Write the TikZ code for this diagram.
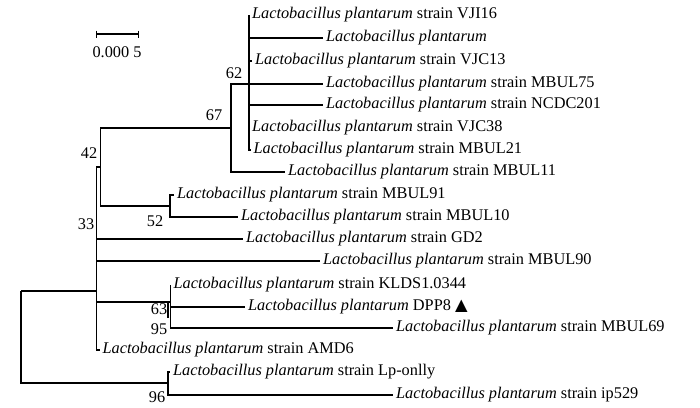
\documentclass[tikz,border=0pt]{standalone}
\usepackage{fontspec}
\setmainfont{Liberation Serif}
\newfontfamily\symfont{DejaVu Sans}
\usepackage{tikz}

\newcommand{\lpl}{\textit{Lactobacillus plantarum}}

\begin{document}
\begin{tikzpicture}[x=1pt,y=-1pt,line width=1.2pt,
  leaf/.style={anchor=west,inner sep=2.5pt,font=\fontsize{16.3}{19.5}\selectfont},
  boot/.style={inner sep=0pt,font=\fontsize{16.3}{19.5}\selectfont}]
\useasboundingbox (0,0) rectangle (700,407);
% scale bar
\coordinate (s1) at (96.7,34);
\coordinate (s2) at (138.3,34);
\draw (s1) -- (s2);
\draw ([yshift=3.5pt]s1) -- ([yshift=-3.5pt]s1);
\draw ([yshift=3.5pt]s2) -- ([yshift=-3.5pt]s2);
\node[boot] (scale) at (117,52) {0.000 5};
% leaves
\node[leaf] (vji16) at (249,15) {\lpl\ strain VJI16};
\node[leaf] (lp) at (323,38) {\lpl};
\node[leaf] (vjc13) at (252,61) {\lpl\ strain VJC13};
\node[leaf] (mbul75) at (323,84) {\lpl\ strain MBUL75};
\node[leaf] (ncdc201) at (323,105) {\lpl\ strain NCDC201};
\node[leaf] (vjc38) at (249,128) {\lpl\ strain VJC38};
\node[leaf] (mbul21) at (250.5,150) {\lpl\ strain MBUL21};
\node[leaf] (mbul11) at (285,172) {\lpl\ strain MBUL11};
\node[leaf] (mbul91) at (174,195) {\lpl\ strain MBUL91};
\node[leaf] (mbul10) at (238,217) {\lpl\ strain MBUL10};
\node[leaf] (gd2) at (243,239) {\lpl\ strain GD2};
\node[leaf] (mbul90) at (320,261) {\lpl\ strain MBUL90};
\node[leaf] (klds) at (170.5,285) {\lpl\ strain KLDS1.0344};
\node[leaf] (dpp8) at (245,307) {\lpl\ DPP8 {\symfont ▲}};
\node[leaf] (mbul69) at (393,328) {\lpl\ strain MBUL69};
\node[leaf] (amd6) at (99.5,350) {\lpl\ strain AMD6};
\node[leaf] (lponlly) at (170,372) {\lpl\ strain Lp-onlly};
\node[leaf] (ip529) at (393,395) {\lpl\ strain ip529};
% inner nodes
\coordinate (root) at (21,291);
\coordinate (n33) at (96.7,291);
\coordinate (n42) at (100.7,167);
\coordinate (n67) at (231,128);
\coordinate (n62) at (249,84);
\coordinate (n52) at (170,206);
\coordinate (n95) at (168,302);
\coordinate (n95b) at (168,318);
\coordinate (n63) at (170.5,302);
\coordinate (n96) at (168,383);
% branches
\draw (root) |- (n33);
\draw (root) |- (n96);
\draw (n33) |- (n42);
\draw (n33) |- (n63);
\foreach \c in {gd2,mbul90,amd6}
  \draw (n33) |- (\c.west);
\draw (n42) |- (n67);
\draw (n42) |- (n52);
\draw (n67) |- (n62);
\draw (n67) |- (mbul11.west);
\foreach \c in {vji16,lp,vjc13,mbul75,ncdc201,vjc38,mbul21}
  \draw (n62) |- (\c.west);
\draw (n52) |- (mbul91.west);
\draw (n52) |- (mbul10.west);
\draw (n95) -- (n95b);
\foreach \c in {klds,dpp8,mbul69}
  \draw (n63) |- (\c.west);
\draw (n96) |- (lponlly.west);
\draw (n96) |- (ip529.west);
% bootstrap values
\node[boot] (b62) at (234,73) {62};
\node[boot] (b67) at (214,115) {67};
\node[boot] (b42) at (89,153) {42};
\node[boot] (b33) at (86,224) {33};
\node[boot] (b52) at (155,221) {52};
\node[boot] (b63) at (159,309) {63};
\node[boot] (b95) at (159,329) {95};
\node[boot] (b96) at (157,397) {96};
\end{tikzpicture}
\end{document}
